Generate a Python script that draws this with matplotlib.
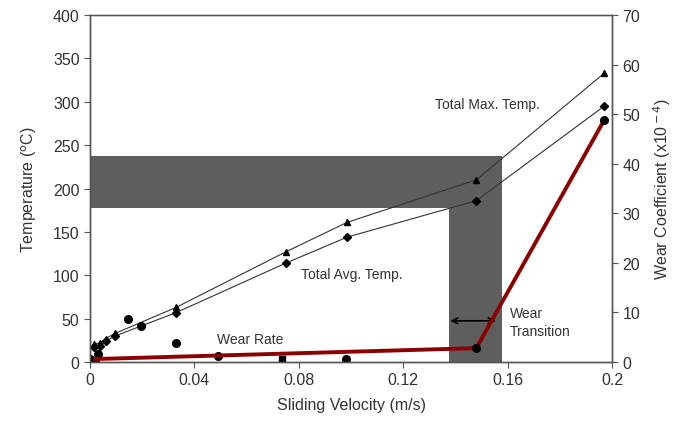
import matplotlib.pyplot as plt
from matplotlib.patches import Rectangle

plt.rcParams['font.family'] = ['Liberation Sans', 'DejaVu Sans']

# Total max temperature (triangles)
max_v = [0.0015, 0.004, 0.006, 0.0096, 0.033, 0.075, 0.0985, 0.148, 0.197]
max_t = [21, 22, 27, 33, 63, 127, 161, 210, 333]

# Total avg temperature (diamonds)
avg_v = [0.0015, 0.004, 0.006, 0.0096, 0.033, 0.075, 0.0985, 0.148, 0.197]
avg_t = [17, 19, 24, 30, 57, 114, 144, 186, 295]

# loose measured points (left axis)
pts_v = [0.0, 0.002, 0.003, 0.0147, 0.0194, 0.033, 0.049, 0.098]
pts_t = [3, 0, 9, 50, 41, 22, 7, 4]
sq_v = [0.0737]
sq_t = [4]

# wear rate (right axis, x10^-4)
wear_v = [0.002, 0.148, 0.197]
wear_k = [0.6, 2.8, 48.8]

# shaded transition band
band_x0, band_x1, band_x2 = 0.0, 0.1375, 0.158
band_y0, band_y1 = 177.5, 237.5

fig = plt.figure(figsize=(6.77, 4.35), dpi=100)
ax = fig.add_axes([0.133, 0.1655, 0.771, 0.7975])
ax2 = ax.twinx()

gray = '#5e5e5e'
ax.add_patch(Rectangle((band_x0, band_y0), band_x2 - band_x0, band_y1 - band_y0,
                       color=gray, lw=0, zorder=1))
ax.add_patch(Rectangle((band_x1, 0), band_x2 - band_x1, band_y1,
                       color=gray, lw=0, zorder=1))

ax.plot(max_v, max_t, color='#333333', lw=0.8, marker='^', ms=5, mfc='black', mec='black', zorder=3)
ax.plot(avg_v, avg_t, color='#333333', lw=0.8, marker='D', ms=4, mfc='black', mec='black', zorder=3)
ax.plot(pts_v, pts_t, ls='none', marker='o', ms=5.5, color='black', zorder=3)
ax.plot(sq_v, sq_t, ls='none', marker='s', ms=5, color='black', zorder=3)

ax2.plot(wear_v, wear_k, color='#8b0000', lw=2.8, zorder=4)
ax2.plot(wear_v[1:], wear_k[1:], ls='none', marker='o', ms=5.5, color='black', zorder=5)

ax.annotate('', xy=(0.137, 47.5), xytext=(0.1565, 47.5),
            arrowprops=dict(arrowstyle='<->', color='black', lw=1.2), zorder=5)

tc = '#333333'
ax.text(0.132, 298, 'Total Max. Temp.', fontsize=10, color=tc, ha='left', va='center')
ax.text(0.081, 102, 'Total Avg. Temp.', fontsize=10, color=tc, ha='left', va='center')
ax.text(0.0485, 27, 'Wear Rate', fontsize=10, color=tc, ha='left', va='center')
ax.text(0.161, 46, 'Wear\nTransition', fontsize=10, color=tc, ha='left', va='center', linespacing=1.3)

ax.set_xlim(0, 0.2)
ax.set_ylim(0, 400)
ax2.set_ylim(0, 70)
ax.set_xticks([0, 0.04, 0.08, 0.12, 0.16, 0.2])
ax.set_xticklabels(['0', '0.04', '0.08', '0.12', '0.16', '0.2'])
ax.set_yticks(range(0, 401, 50))
ax2.set_yticks(range(0, 71, 10))

ax.set_xlabel('Sliding Velocity (m/s)', fontsize=11.5, color=tc, labelpad=7)
ax.set_ylabel('Temperature ($^{\\rm o}$C)', fontsize=11.5, color=tc, labelpad=10)
ax2.set_ylabel('Wear Coefficient (x10$^{\\rm -4}$)', fontsize=11.5, color=tc, labelpad=8)

for a in (ax, ax2):
    a.tick_params(direction='out', length=4, labelsize=11.5, colors='#555555', labelcolor=tc)
    for s in a.spines.values():
        s.set_color('#555555')
        s.set_linewidth(1.0)
ax.spines['top'].set_color('#888888')

fig.savefig('out.png', dpi=100)
